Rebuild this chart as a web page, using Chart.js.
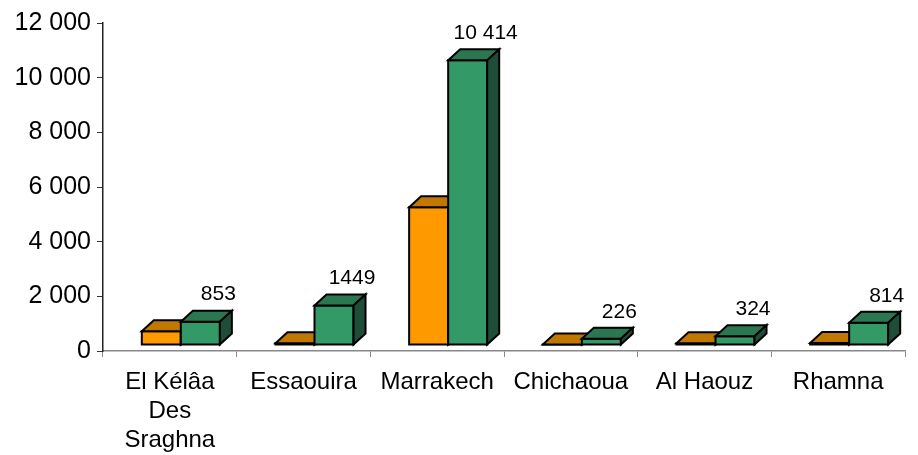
<!DOCTYPE html>
<html>
<head>
<meta charset="utf-8">
<script src="https://cdn.jsdelivr.net/npm/chart.js@4.4.0/dist/chart.umd.min.js"></script>
<style>
  html, body { margin: 0; padding: 0; background: #fff; }
</style>
</head>
<body>
<canvas id="chart" width="918" height="455"></canvas>
<script>
// ===============================
// DATA
// ===============================

const provinces = [["El Kélâa", "Des", "Sraghna"], "Essaouira", "Marrakech", "Chichaoua", "Al Haouz", "Rhamna"];
const seriesOrange = [500, 60, 5040, 15, 60, 70];
const seriesGreen = [853, 1449, 10414, 226, 324, 814];
const greenLabels = ["853", "1449", "10 414", "226", "324", "814"];
const yTicks = [0, 2000, 4000, 6000, 8000, 10000, 12000];


// ===============================
// 3D LOOK
// ===============================

const FONT = "'Liberation Sans', Arial, sans-serif";
const DEPTH_X = 12, DEPTH_Y = 11;   // depth of the boxes
const SHIFT_X = 11, SHIFT_Y = -6;   // front face offset from the axis plane

const faces = [
  { front: "#FF9900", top: "#C07800", side: "#8F5A00" },
  { front: "#339966", top: "#2A7752", side: "#1E4E37" }
];

function poly(ctx, pts, fill) {
  ctx.beginPath();
  ctx.moveTo(pts[0][0], pts[0][1]);
  for (let k = 1; k < pts.length; k++) ctx.lineTo(pts[k][0], pts[k][1]);
  ctx.closePath();
  ctx.fillStyle = fill;
  ctx.fill();
  ctx.stroke();
}

const bars3d = {
  id: "bars3d",
  beforeDatasetsDraw(chart) {
    const ctx = chart.ctx;
    const n = chart.data.labels.length;
    ctx.save();
    ctx.lineWidth = 2;
    ctx.strokeStyle = "#000";
    ctx.lineJoin = "miter";

    for (let i = 0; i < n; i++) {
      chart.data.datasets.forEach((ds, d) => {
        const el = chart.getDatasetMeta(d).data[i];
        const x1 = el.x - el.width / 2 + SHIFT_X;
        const x2 = el.x + el.width / 2 + SHIFT_X;
        const top = el.y + SHIFT_Y;
        const bottom = el.base + SHIFT_Y;
        const c = faces[d];

        poly(ctx, [[x1, bottom], [x2, bottom], [x2, top], [x1, top]], c.front);
        poly(ctx, [[x1, top], [x2, top], [x2 + DEPTH_X, top - DEPTH_Y], [x1 + DEPTH_X, top - DEPTH_Y]], c.top);
        poly(ctx, [[x2, bottom], [x2 + DEPTH_X, bottom - DEPTH_Y], [x2 + DEPTH_X, top - DEPTH_Y], [x2, top]], c.side);
      });
    }

    // value labels on the green series
    ctx.fillStyle = "#000";
    ctx.font = "21px " + FONT;
    ctx.textAlign = "center";
    ctx.textBaseline = "middle";
    chart.getDatasetMeta(1).data.forEach((el, i) => {
      const x = el.x + SHIFT_X + 18;
      const y = el.y + SHIFT_Y - DEPTH_Y - 16;
      ctx.fillText(greenLabels[i], x, y);
    });

    ctx.restore();
    return false;
  }
};


// ===============================
// CHART
// ===============================

const fmt = v => String(v).replace(/\B(?=(\d{3})+(?!\d))/g, " ");

new Chart(document.getElementById("chart"), {
  type: "bar",
  data: {
    labels: provinces,
    datasets: [
      { data: seriesOrange, backgroundColor: faces[0].front },
      { data: seriesGreen, backgroundColor: faces[1].front }
    ]
  },
  options: {
    responsive: false,
    animation: false,
    events: [],
    categoryPercentage: 0.584,
    barPercentage: 1,
    layout: { padding: { top: 23, right: 13, left: 0, bottom: 0 } },
    plugins: {
      legend: { display: false },
      tooltip: { enabled: false }
    },
    scales: {
      x: {
        grid: { drawOnChartArea: false, offset: true, tickLength: 6, color: "#888", lineWidth: 1 },
        border: { color: "#888", width: 1.5 },
        ticks: { color: "#000", font: { family: FONT, size: 24 }, padding: 11, maxRotation: 0, autoSkip: false },
        afterFit: s => { s.height = 104; }
      },
      y: {
        min: 0,
        max: 12000,
        afterBuildTicks: s => { s.ticks = yTicks.map(v => ({ value: v })); },
        grid: { drawOnChartArea: false, tickLength: 6, color: "#333" },
        border: { color: "#222", width: 1.5 },
        ticks: { color: "#000", font: { family: FONT, size: 25 }, padding: 6, callback: v => fmt(v) },
        afterFit: s => { s.width = 103; }
      }
    }
  },
  plugins: [bars3d]
});
</script>
</body>
</html>
